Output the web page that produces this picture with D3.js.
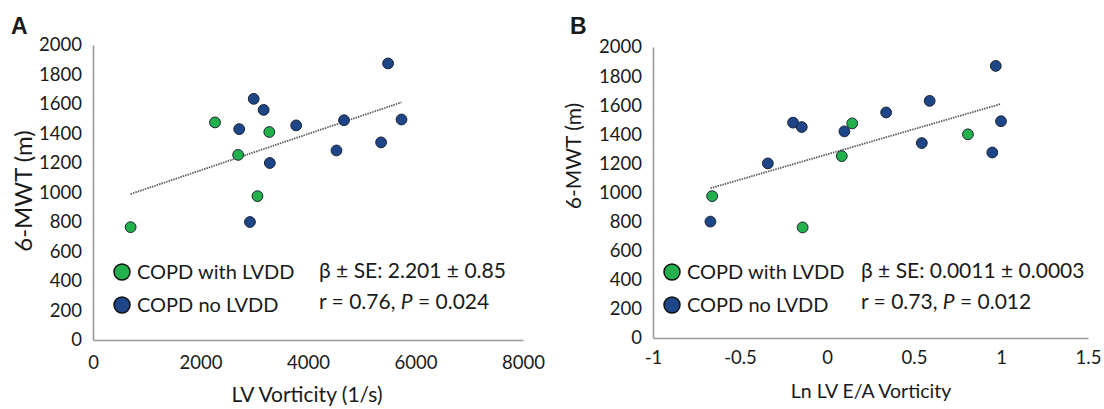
<script src="https://d3js.org/d3.v7.min.js"></script>

<style>
  body { margin: 0; background: #fff; }
  text { font-family: Lato, "Open Sans", sans-serif; fill: #1a1a1a; }
</style>

<div id="container"></div>

<script>
// panel A: LV vorticity vs 6-MWT
var aWithX = [700, 2270, 3280, 2700, 3060];
var aWithY = [765, 1475, 1410, 1255, 975];
var aNoX = [2720, 2990, 3175, 3290, 2920, 3780, 4670, 4530, 5360, 5490, 5740];
var aNoY = [1430, 1635, 1560, 1200, 800, 1455, 1490, 1285, 1340, 1875, 1495];

// panel B: ln LV E/A vorticity vs 6-MWT
var bWithX = [-0.66, -0.14, 0.145, 0.085, 0.81];
var bWithY = [975, 760, 1475, 1250, 1400];
var bNoX = [-0.67, -0.34, -0.195, -0.145, 0.10, 0.34, 0.59, 0.545, 0.95, 0.97, 1.0];
var bNoY = [800, 1200, 1480, 1450, 1420, 1550, 1630, 1340, 1275, 1870, 1490];

var yTicks = [0, 200, 400, 600, 800, 1000, 1200, 1400, 1600, 1800, 2000];
var aXTicks = [0, 2000, 4000, 6000, 8000];
var bXTicks = [-1, -0.5, 0, 0.5, 1, 1.5];

var legendLabels = ["COPD with LVDD", "COPD no LVDD"];
var green = "#22b14c";
var blue = "#1d4587";

var svg = d3.select("#container").append("svg")
  .attr("width", 1104)
  .attr("height", 409);

function zip(xs, ys) {
  return xs.map(function (x, i) { return { x: x, y: ys[i] }; });
}

function drawPanel(p) {
  var xscale = d3.scaleLinear().domain(p.xDomain).range(p.xRange);
  var yscale = d3.scaleLinear().domain([0, 2000]).range(p.yRange);
  var g = svg.append("g");

  // y axis
  var ya = g.append("g")
    .attr("transform", "translate(" + p.xRange[0] + ",0)")
    .call(d3.axisLeft(yscale).tickValues(yTicks).tickSize(0).tickPadding(11).tickFormat(d3.format("d")));
  // x axis
  var xa = g.append("g")
    .attr("transform", "translate(0," + p.yRange[0] + ")")
    .call(d3.axisBottom(xscale).tickValues(p.xTicks).tickSize(0).tickPadding(p.xPad).tickFormat(function (d) { return d; }));
  [ya, xa].forEach(function (a) {
    a.select(".domain").attr("stroke", "#9a9a9a").attr("stroke-width", 1.6);
    a.selectAll("text").style("font-size", "18.5px").attr("fill", "#1a1a1a");
  });

  // axis titles
  g.append("text")
    .attr("transform", "translate(" + p.yTitle[0] + "," + p.yTitle[1] + ") rotate(-90)")
    .style("text-anchor", "middle")
    .attr("dy", "0.35em")
    .style("font-size", p.yTitleSize + "px")
    .text("6-MWT (m)");
  g.append("text")
    .attr("x", p.xTitle[0])
    .attr("y", p.xTitle[1])
    .style("text-anchor", "middle")
    .style("font-size", p.xTitleSize + "px")
    .text(p.xLabel);

  // panel letter
  g.append("text")
    .attr("x", p.letter[0])
    .attr("y", p.letter[1])
    .style("font-size", "23px")
    .style("font-weight", "bold")
    .style("font-family", "Liberation Sans, Arial, sans-serif")
    .text(p.name);

  // trend line from least squares over all points
  var all = p.withPts.concat(p.noPts);
  var mx = d3.mean(all, function (d) { return d.x; });
  var my = d3.mean(all, function (d) { return d.y; });
  var sxy = d3.sum(all, function (d) { return (d.x - mx) * (d.y - my); });
  var sxx = d3.sum(all, function (d) { return (d.x - mx) * (d.x - mx); });
  var slope = sxy / sxx;
  var ext = d3.extent(all, function (d) { return d.x; });
  g.append("line")
    .attr("x1", xscale(ext[0]))
    .attr("y1", yscale(my + slope * (ext[0] - mx)))
    .attr("x2", xscale(ext[1]))
    .attr("y2", yscale(my + slope * (ext[1] - mx)))
    .attr("stroke", "#5e5e5e")
    .attr("stroke-width", 1.8)
    .attr("stroke-dasharray", "1.5,1");

  // points
  [[p.withPts, green], [p.noPts, blue]].forEach(function (s) {
    g.append("g")
      .selectAll("circle")
      .data(s[0])
      .enter()
      .append("circle")
        .attr("cx", function (d) { return xscale(d.x); })
        .attr("cy", function (d) { return yscale(d.y); })
        .attr("r", 5.4)
        .attr("fill", s[1])
        .attr("stroke", "#1b2433")
        .attr("stroke-width", 1);
  });

  // legend
  legendLabels.forEach(function (lab, i) {
    var ly = p.legend[1] + i * 33;
    g.append("circle")
      .attr("cx", p.legend[0])
      .attr("cy", ly)
      .attr("r", 8)
      .attr("fill", i == 0 ? green : blue)
      .attr("stroke", "#111")
      .attr("stroke-width", 1.5);
    g.append("text")
      .attr("x", p.legend[0] + 15)
      .attr("y", ly)
      .attr("dy", "0.35em")
      .style("font-size", "20px")
      .text(lab);
  });

  // stats
  g.append("text")
    .attr("x", p.stats[0])
    .attr("y", p.stats[1])
    .attr("dy", "0.35em")
    .style("font-size", "21px")
    .text("\u03b2 \u00b1 SE: " + p.beta);
  var t = g.append("text")
    .attr("x", p.stats[0])
    .attr("y", p.stats[1] + 31)
    .attr("dy", "0.35em")
    .style("font-size", "21px");
  t.append("tspan").text("r = " + p.r + ", ");
  t.append("tspan").style("font-style", "italic").text("P");
  t.append("tspan").text(" = " + p.pval);
}

drawPanel({
  name: "A",
  letter: [11, 34],
  xDomain: [0, 8000], xRange: [93, 523],
  yRange: [340, 45],
  xTicks: aXTicks, xPad: 16,
  xLabel: "LV Vorticity (1/s)", xTitleSize: 21,
  xTitle: [307, 402],
  yTitle: [24, 191], yTitleSize: 24,
  withPts: zip(aWithX, aWithY),
  noPts: zip(aNoX, aNoY),
  legend: [122, 272],
  stats: [319, 271],
  beta: "2.201 \u00b1 0.85", r: "0.76", pval: "0.024"
});

drawPanel({
  name: "B",
  letter: [570, 34],
  xDomain: [-1, 1.5], xRange: [653, 1088],
  yRange: [338, 47],
  xTicks: bXTicks, xPad: 13,
  xLabel: "Ln LV E/A Vorticity", xTitleSize: 19.5,
  xTitle: [871, 398],
  yTitle: [574, 156], yTitleSize: 21,
  withPts: zip(bWithX, bWithY),
  noPts: zip(bNoX, bNoY),
  legend: [672, 272],
  stats: [861, 271],
  beta: "0.0011 \u00b1 0.0003", r: "0.73", pval: "0.012"
});
</script>
